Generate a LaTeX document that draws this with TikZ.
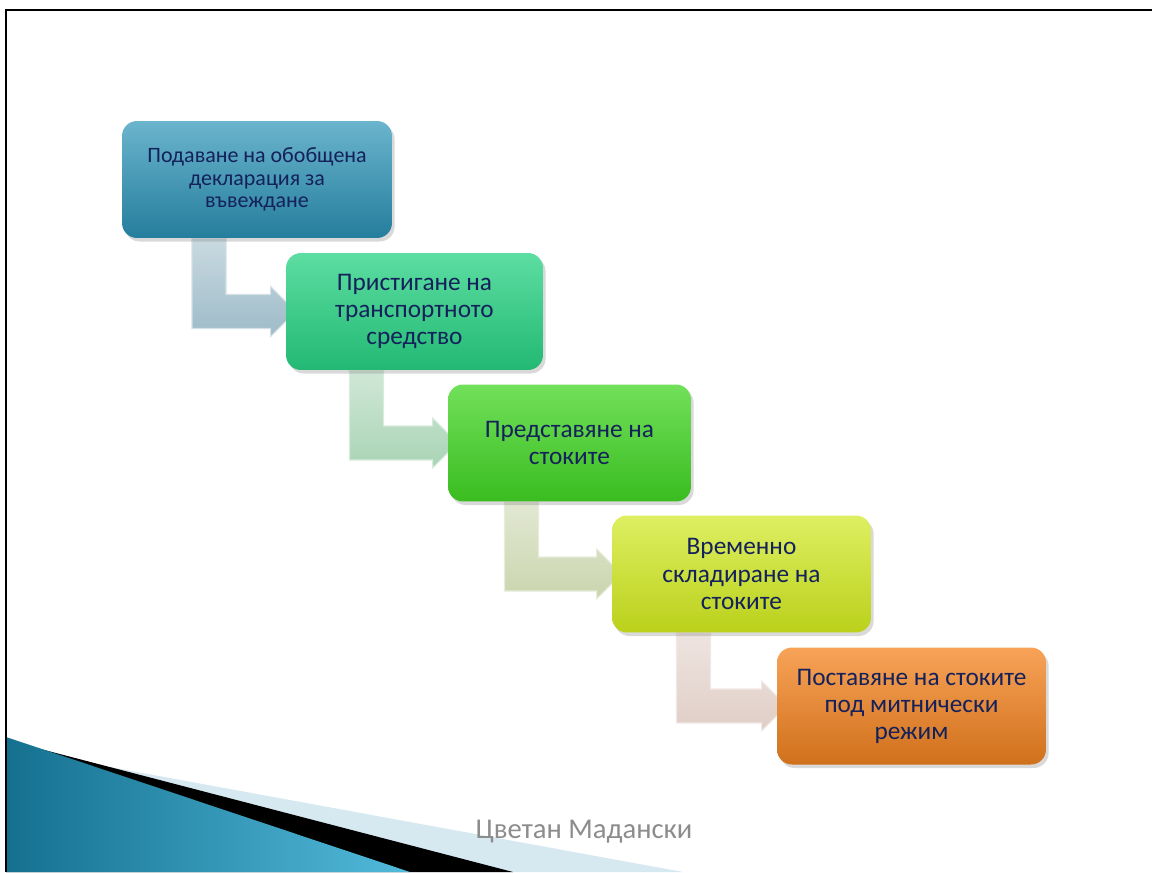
\documentclass[tikz,border=0pt]{standalone}
\usepackage{fontspec}
\setmainfont{Carlito}
\usetikzlibrary{shapes.geometric, arrows, positioning, shadows, calc, backgrounds}

\definecolor{navytext}{HTML}{14215A}
\definecolor{boxblue}{HTML}{2B94B8}
\definecolor{boxmint}{HTML}{27D283}
\definecolor{boxgreen}{HTML}{42D624}
\definecolor{boxlime}{HTML}{CFE81E}
\definecolor{boxorange}{HTML}{F58420}
\definecolor{arrblue}{HTML}{9DBBC8}
\definecolor{arrmint}{HTML}{A9D4B5}
\definecolor{arrolive}{HTML}{CAD5AE}
\definecolor{arrrose}{HTML}{E0CEC6}
\definecolor{tealdark}{HTML}{15708F}
\definecolor{teallight}{HTML}{52BADB}
\definecolor{palesky}{HTML}{D6E8F0}

\tikzstyle{stepbox} = [rectangle, rounded corners=0.3cm, minimum height=2.34cm, align=center, text=navytext, font=\fontsize{14.4}{15.4}\selectfont, drop shadow={shadow xshift=1.5pt, shadow yshift=-2pt, opacity=0.3}]
\tikzstyle{footer} = [text=black!45, font=\fontsize{16.3}{18}\selectfont]

% bent arrow from the bottom of one box into the side of the next
\newcommand{\steparrow}[3]{%
	\path[top color=#3!55!white, bottom color=#3, draw=white!55!#3, line width=0.6pt]
		let \p1=(#1.south), \p2=(#2.west) in
		(\x1-1.3cm,\y1) -- (\x1-0.62cm,\y1) -- (\x1-0.62cm,\y2+0.34cm) -- (\x2-0.3cm,\y2+0.34cm)
		-- (\x2-0.3cm,\y2+0.5cm) -- (\x2+0.2cm,\y2) -- (\x2-0.3cm,\y2-0.5cm) -- (\x2-0.3cm,\y2-0.34cm)
		-- (\x1-1.3cm,\y2-0.34cm) -- cycle;}

\begin{document}
\begin{tikzpicture}[x=0.02cm, y=-0.02cm]
		\useasboundingbox (0,0) rectangle (1152,872);
		
		% Corner decoration
		\fill[palesky] (6,748) -- (683,872) -- (6,872) -- cycle;
		\fill[black] (6,740) -- (513,872) -- (6,872) -- cycle;
		\shade[left color=tealdark, right color=teallight] (6,737) -- (410,872) -- (6,872) -- cycle;
		\draw[line width=1.4pt] (6,872) -- (6,10) -- (1152,10);
		
		% Nodes
		\node (s1) [stepbox, minimum width=5.4cm, top color=boxblue!70!white, bottom color=boxblue!85!black, font=\fontsize{12.5}{12.8}\selectfont] at (257,179.5) {Подаване на обобщена\\декларация за\\въвеждане};
		\node (s2) [stepbox, minimum width=5.14cm, top color=boxmint!75!white, bottom color=boxmint!88!black] at (414.5,311.5) {Пристигане на\\транспортното\\средство};
		\node (s3) [stepbox, minimum width=4.86cm, top color=boxgreen!75!white, bottom color=boxgreen!88!black] at (569.5,443) {Представяне на\\стоките};
		\node (s4) [stepbox, minimum width=5.18cm, top color=boxlime!70!white, bottom color=boxlime!90!black] at (741.5,574) {Временно\\складиране на\\стоките};
		\node (s5) [stepbox, minimum width=5.38cm, top color=boxorange!75!white, bottom color=boxorange!85!black] at (911.5,706) {Поставяне на стоките\\под митнически\\режим};
		
		\node (author) [footer] at (584,832) {Цветан Мадански};
		
		% Arrows between the steps
		\begin{scope}[on background layer]
			\steparrow{s1}{s2}{arrblue}
			\steparrow{s2}{s3}{arrmint}
			\steparrow{s3}{s4}{arrolive}
			\steparrow{s4}{s5}{arrrose}
		\end{scope}
		
	\end{tikzpicture}
\end{document}
